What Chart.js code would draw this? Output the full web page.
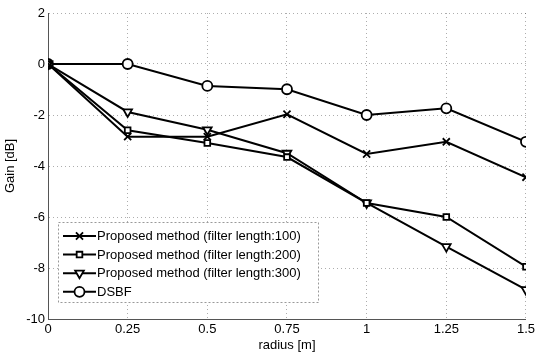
<!DOCTYPE html>
<html>
<head>
<meta charset="utf-8">
<script src="https://cdn.jsdelivr.net/npm/chart.js@4/dist/chart.umd.min.js"></script>
<style>
  html, body { margin: 0; padding: 0; background: #fff; }
  #wrap { width: 538px; height: 353px; }
</style>
</head>
<body>
<div id="wrap"><canvas id="c" width="538" height="353"></canvas></div>
<script>
const radius = [0, 0.25, 0.5, 0.75, 1, 1.25, 1.5];
const xTicks = [0, 0.25, 0.5, 0.75, 1, 1.25, 1.5];
const yTicks = [-10, -8, -6, -4, -2, 0, 2];
const len100 = [0, -2.85, -2.85, -1.97, -3.53, -3.05, -4.44];
const len200 = [0, -2.6, -3.1, -3.65, -5.45, -6.0, -7.95];
const len300 = [0, -1.88, -2.58, -3.5, -5.45, -7.16, -8.85];
const dsbf = [0, 0, -0.86, -0.99, -2.0, -1.74, -3.05];
const labels = [
  'Proposed method (filter length:100)',
  'Proposed method (filter length:200)',
  'Proposed method (filter length:300)',
  'DSBF'
];

const FONT = '"Liberation Sans", Arial, Helvetica, sans-serif';

function pts(arr) { return arr.map((v, i) => ({ x: radius[i], y: v })); }

function ds(label, data, style, r, rot) {
  return {
    label, data: pts(data),
    borderColor: '#000', borderWidth: 2,
    pointStyle: style, pointRadius: r, pointHoverRadius: r,
    pointRotation: rot || 0,
    pointBorderColor: '#000', pointBackgroundColor: '#fff', pointBorderWidth: 1.8,
    tension: 0, fill: false
  };
}

const legendPlugin = {
  id: 'boxLegend',
  afterDatasetsDraw(chart) {
    const ctx = chart.ctx;
    const x0 = 58, y0 = 222, w = 260, h = 80;
    ctx.save();
    ctx.fillStyle = '#fff';
    ctx.fillRect(x0, y0, w, h);
    ctx.strokeStyle = 'rgba(0,0,0,0.4)';
    ctx.lineWidth = 1;
    ctx.setLineDash([2, 2]);
    ctx.strokeRect(x0 + 0.5, y0 + 0.5, w, h);
    ctx.setLineDash([]);
    ctx.font = '13px ' + FONT;
    ctx.textBaseline = 'middle';
    chart.data.datasets.forEach((d, i) => {
      const y = 236 + i * 18.6;
      ctx.strokeStyle = '#000';
      ctx.lineWidth = 2;
      ctx.beginPath();
      ctx.moveTo(63, y); ctx.lineTo(96, y); ctx.stroke();
      ctx.fillStyle = '#fff';
      ctx.lineWidth = 1.8;
      Chart.helpers.drawPoint(ctx, {
        pointStyle: d.pointStyle, rotation: d.pointRotation,
        radius: d.pointRadius, borderWidth: 1.8
      }, 79.5, y);
      ctx.fillStyle = '#000';
      ctx.fillText(d.label, 97, y + 0.5);
    });
    ctx.restore();
  }
};

new Chart(document.getElementById('c'), {
  type: 'line',
  data: {
    datasets: [
      ds(labels[0], len100, 'crossRot', 5),
      ds(labels[1], len200, 'rect', 4),
      ds(labels[2], len300, 'triangle', 5, 180),
      ds(labels[3], dsbf, 'circle', 5)
    ]
  },
  options: {
    responsive: false,
    animation: false,
    events: [],
    layout: { padding: { top: 13, right: 10, left: 0, bottom: 0 } },
    plugins: { legend: { display: false }, tooltip: { enabled: false } },
    scales: {
      x: {
        type: 'linear', min: 0, max: 1.5,
        afterBuildTicks(s) { s.ticks = xTicks.map(v => ({ value: v })); },
        afterFit(s) { s.height = 34; },
        ticks: { color: '#000', font: { size: 13, family: FONT }, padding: 3,
                 maxRotation: 0, autoSkip: false,
                 callback: v => String(v) },
        grid: { color: 'rgba(0,0,0,0.32)', lineWidth: 1, drawTicks: false },
        border: { display: true, color: '#555', width: 1, dash: [1, 3] },
        title: { display: true, text: 'radius [m]', color: '#000',
                 font: { size: 13, family: FONT }, padding: { top: 0, bottom: 0 } }
      },
      y: {
        min: -10, max: 2,
        afterBuildTicks(s) { s.ticks = yTicks.map(v => ({ value: v })); },
        afterFit(s) { s.width = 48; },
        ticks: { color: '#000', font: { size: 13, family: FONT }, padding: 3,
                 autoSkip: false, callback: v => String(v) },
        grid: { color: 'rgba(0,0,0,0.32)', lineWidth: 1, drawTicks: false },
        border: { display: true, color: '#555', width: 1, dash: [1, 3] },
        title: { display: true, text: 'Gain [dB]', color: '#000',
                 font: { size: 13, family: FONT }, padding: { top: 3, bottom: 0 } }
      }
    }
  },
  plugins: [legendPlugin]
});
</script>
</body>
</html>
